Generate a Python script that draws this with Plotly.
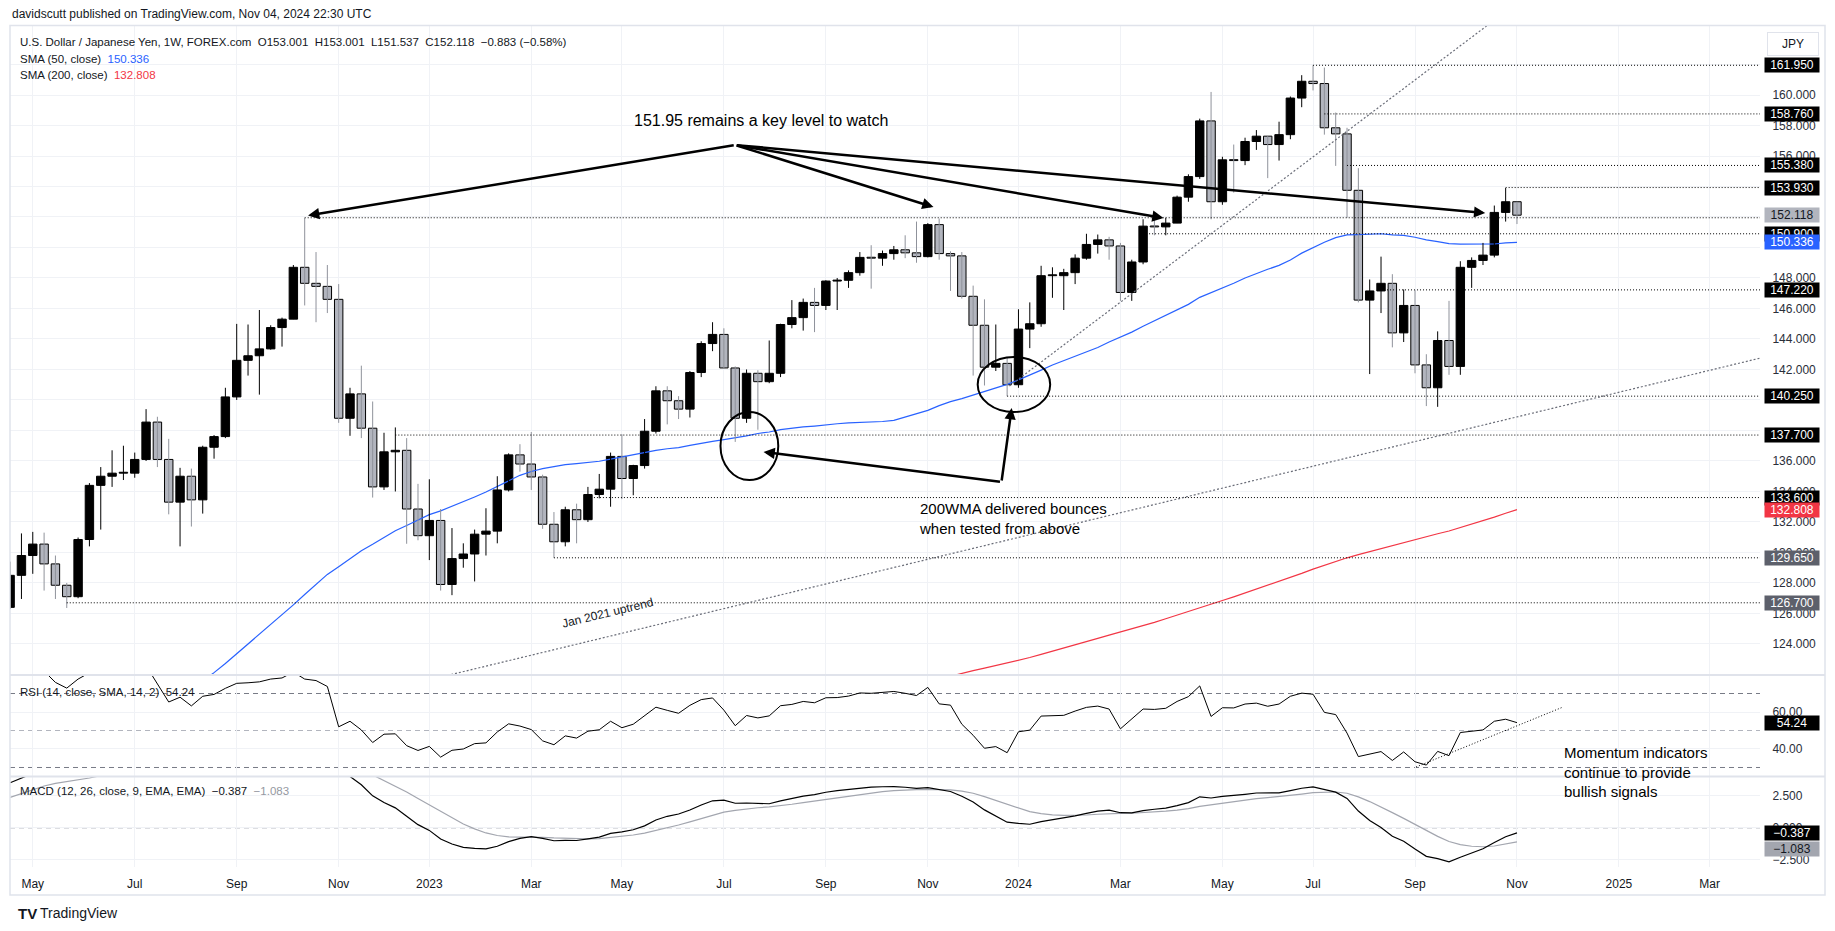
import pandas as pd
import plotly.graph_objects as go

# ---------------- data (weekly USD/JPY, FOREX.com) ----------------
FIRST_BAR = "2022-04-18"

opens = [126.4, 128.5, 129.8, 130.55, 129.25, 127.85, 127.1, 130.85, 134.4, 135.0,
         135.2, 135.2, 136.1, 138.55, 136.1, 133.3, 135.0, 133.45, 136.9, 137.6,
         140.2, 142.6, 142.9, 143.35, 144.75, 145.3, 148.7, 147.65, 147.45, 146.6,
         138.8, 140.4, 138.15, 134.3, 136.6, 136.7, 132.85, 131.1, 132.1, 127.9,
         129.6, 129.9, 131.2, 131.4, 134.1, 136.4, 135.8, 134.95, 131.85, 130.7,
         132.8, 132.15, 133.8, 134.15, 136.3, 134.85, 135.7, 137.95, 140.6, 139.95,
         139.4, 141.8, 143.7, 144.3, 142.1, 138.8, 141.75, 141.2, 141.75, 144.95,
         145.4, 146.4, 146.2, 147.8, 147.85, 148.35, 149.35, 149.3, 149.6, 149.85,
         149.65, 149.4, 151.5, 149.6, 149.45, 146.8, 144.9, 142.15, 142.4, 141.0,
         144.65, 145.0, 148.15, 148.15, 148.35, 149.3, 150.2, 150.5, 150.1, 147.05,
         149.05, 151.4, 151.35, 151.6, 153.3, 154.65, 158.3, 153.0, 155.75, 155.7,
         156.95, 157.3, 156.75, 157.4, 159.8, 160.9, 160.75, 157.85, 157.45, 153.75,
         146.55, 147.15, 147.65, 144.4, 146.2, 142.3, 140.8, 143.9, 142.2, 148.7,
         149.15, 149.5, 152.3, 153.001]
highs = [129.4, 131.25, 131.35, 131.3, 129.8, 128.0, 130.98, 134.55, 135.6, 136.7,
         137.0, 136.55, 139.4, 138.9, 137.45, 135.55, 135.5, 137.0, 137.7, 140.8,
         144.99, 144.95, 145.9, 144.9, 145.4, 148.85, 151.94, 149.7, 148.85, 147.6,
         140.8, 142.25, 139.9, 137.85, 138.2, 137.5, 134.5, 134.8, 132.85, 131.6,
         130.6, 131.5, 132.9, 135.0, 136.5, 137.1, 137.9, 135.1, 132.65, 133.0,
         133.2, 134.3, 135.15, 136.55, 137.75, 135.75, 138.75, 140.9, 140.9, 140.25,
         141.9, 143.85, 145.1, 144.7, 142.2, 142.0, 141.95, 143.9, 145.0, 146.55,
         146.65, 147.35, 147.85, 148.0, 148.5, 149.7, 150.15, 149.8, 150.1, 150.8,
         151.7, 151.6, 151.9, 149.75, 149.7, 147.5, 146.6, 144.95, 142.8, 145.95,
         146.4, 148.8, 148.7, 148.6, 149.55, 150.9, 150.85, 150.7, 150.3, 149.2,
         151.85, 151.97, 151.95, 153.4, 154.8, 158.45, 160.2, 155.95, 156.75, 157.2,
         157.7, 157.3, 158.25, 159.9, 161.3, 161.95, 161.8, 158.85, 157.85, 155.2,
         147.9, 149.4, 148.25, 147.25, 147.2, 143.0, 144.5, 146.5, 149.1, 149.35,
         150.3, 152.75, 153.9, 153.001]
lows = [126.3, 126.95, 128.6, 127.5, 126.95, 126.36, 127.0, 130.4, 131.5, 134.3,
        134.75, 134.9, 136.0, 135.6, 132.5, 130.4, 131.7, 132.55, 136.15, 137.5,
        140.0, 141.6, 140.35, 143.3, 143.5, 145.3, 146.2, 145.1, 145.7, 138.5,
        137.65, 137.5, 133.6, 134.1, 134.0, 130.57, 130.8, 129.5, 127.5, 127.2,
        129.0, 128.1, 129.8, 130.6, 134.0, 135.3, 134.1, 131.55, 129.65, 130.4,
        130.6, 132.0, 133.55, 133.0, 133.5, 133.75, 135.5, 137.8, 138.4, 138.75,
        138.85, 141.5, 143.2, 142.05, 137.25, 138.5, 138.05, 141.1, 141.5, 144.7,
        144.55, 144.45, 145.9, 145.9, 147.35, 148.15, 147.3, 148.8, 149.2, 149.3,
        149.0, 149.35, 149.2, 147.15, 146.65, 141.6, 140.95, 141.9, 140.25, 140.8,
        143.4, 144.8, 146.7, 145.9, 147.6, 149.2, 149.6, 149.2, 146.5, 146.5,
        148.9, 150.8, 150.8, 151.6, 153.0, 154.5, 151.85, 152.8, 153.6, 155.4,
        156.4, 154.55, 155.7, 157.1, 159.2, 160.3, 157.4, 155.35, 151.95, 146.4,
        141.7, 145.7, 143.45, 143.8, 141.75, 139.6, 139.55, 141.65, 141.65, 147.35,
        148.85, 149.35, 151.7, 151.537]
closes = [128.5, 129.8, 130.55, 129.25, 127.85, 127.1, 130.85, 134.4, 135.0, 135.2,
          135.2, 136.1, 138.55, 136.1, 133.3, 135.0, 133.45, 136.9, 137.6, 140.2,
          142.6, 142.9, 143.35, 144.75, 145.3, 148.7, 147.65, 147.45, 146.6, 138.8,
          140.4, 138.15, 134.3, 136.6, 136.7, 132.85, 131.1, 132.1, 127.9, 129.6,
          129.9, 131.2, 131.4, 134.1, 136.4, 135.8, 134.95, 131.85, 130.7, 132.8,
          132.15, 133.8, 134.15, 136.3, 134.85, 135.7, 137.95, 140.6, 139.95, 139.4,
          141.8, 143.7, 144.3, 142.1, 138.8, 141.75, 141.2, 141.75, 144.95, 145.4,
          146.4, 146.2, 147.8, 147.85, 148.35, 149.35, 149.3, 149.6, 149.85, 149.65,
          149.4, 151.5, 149.6, 149.45, 146.8, 144.9, 142.15, 142.4, 141.0, 144.65,
          145.0, 148.15, 148.15, 148.35, 149.3, 150.2, 150.5, 150.1, 147.05, 149.05,
          151.4, 151.35, 151.6, 153.3, 154.65, 158.3, 153.0, 155.75, 155.7, 156.95,
          157.3, 156.75, 157.4, 159.8, 160.9, 160.75, 157.85, 157.45, 153.75, 146.55,
          147.15, 147.65, 144.4, 146.2, 142.3, 140.8, 143.9, 142.2, 148.7, 149.15,
          149.5, 152.3, 153.0, 152.118]

SMA50_FIRST_BAR = 16
sma50 = [121.02, 121.56, 122.12, 122.72, 123.36, 124.0, 124.62, 125.23, 125.86, 126.56,
         127.24, 127.91, 128.56, 129.07, 129.61, 130.12, 130.54, 131.0, 131.43, 131.77,
         132.11, 132.48, 132.73, 133.02, 133.31, 133.64, 133.96, 134.34, 134.72, 135.06,
         135.31, 135.5, 135.63, 135.76, 135.83, 135.91, 135.98, 136.12, 136.26, 136.43,
         136.58, 136.7, 136.8, 136.88, 137.02, 137.17, 137.28, 137.4, 137.51, 137.65,
         137.8, 137.9, 138.05, 138.15, 138.23, 138.29, 138.38, 138.44, 138.5, 138.52,
         138.55, 138.59, 138.66, 138.88, 139.06, 139.32, 139.63, 139.89, 140.09, 140.33,
         140.55, 140.76, 141.02, 141.32, 141.62, 141.96, 142.29, 142.58, 142.84, 143.13,
         143.44, 143.8, 144.13, 144.45, 144.84, 145.19, 145.54, 145.88, 146.27, 146.73,
         147.03, 147.33, 147.65, 148.0, 148.31, 148.57, 148.83, 149.18, 149.63, 150.0,
         150.34, 150.65, 150.83, 150.85, 150.87, 150.9, 150.83, 150.79, 150.67, 150.5,
         150.39, 150.25, 150.22, 150.21, 150.22, 150.23, 150.3, 150.336]

SMA200_FIRST_BAR = 82
sma200 = [121.7, 121.9, 122.08, 122.25, 122.41, 122.58, 122.73, 122.92, 123.11, 123.32,
          123.52, 123.73, 123.94, 124.15, 124.37, 124.58, 124.78, 124.98, 125.2, 125.42,
          125.65, 125.88, 126.12, 126.37, 126.6, 126.85, 127.09, 127.34, 127.59, 127.84,
          128.1, 128.36, 128.63, 128.91, 129.16, 129.42, 129.65, 129.86, 130.06, 130.27,
          130.47, 130.67, 130.85, 131.03, 131.23, 131.41, 131.63, 131.85, 132.08, 132.32,
          132.57, 132.808]

rsi = [86.8, 87.7, 88.1, 82.1, 76.0, 72.9, 77.8, 81.2, 81.8, 81.9,
       81.9, 82.8, 85.0, 74.9, 65.4, 68.0, 63.3, 68.5, 69.5, 72.8,
       75.5, 75.8, 76.3, 77.8, 78.4, 81.6, 77.8, 77.0, 73.8, 52.0,
       55.0, 50.3, 43.5, 48.0, 48.2, 41.8, 39.2, 41.4, 35.6, 39.3,
       40.0, 42.9, 43.3, 49.2, 53.6, 52.4, 50.5, 44.4, 42.3, 47.1,
       45.9, 49.6, 50.4, 55.0, 51.5, 53.4, 58.0, 62.6, 60.9, 59.3,
       63.6, 66.7, 67.6, 61.0, 52.6, 58.1, 56.8, 57.9, 63.4, 64.1,
       65.7, 65.0, 67.7, 67.8, 68.6, 70.3, 70.1, 70.7, 71.1, 70.1,
       68.9, 73.3, 64.4, 63.7, 53.4, 47.4, 40.4, 41.3, 38.0, 49.3,
       50.2, 57.8, 57.8, 58.2, 60.5, 62.5, 63.2, 61.6, 50.9, 56.3,
       61.6, 61.4, 62.0, 65.7, 68.3, 74.1, 57.6, 62.3, 62.2, 64.3,
       64.8, 63.1, 64.3, 68.5, 70.2, 69.6, 59.8, 58.6, 48.6, 35.9,
       37.3, 38.6, 33.8, 38.4, 33.1, 31.3, 38.7, 36.4, 48.9, 49.7,
       50.3, 55.0, 56.1, 54.24]

macd = [3.53, 3.93, 4.26, 4.37, 4.29, 4.12, 4.24, 4.57, 4.82, 4.98,
        5.05, 5.11, 5.30, 5.20, 4.83, 4.62, 4.28, 4.25, 4.22, 4.36,
        4.62, 4.79, 4.90, 5.04, 5.14, 5.43, 5.52, 5.50, 5.36, 4.57,
        4.02, 3.37, 2.51, 1.99, 1.57, 0.92, 0.26, -0.19, -0.86, -1.25,
        -1.52, -1.60, -1.64, -1.43, -1.07, -0.82, -0.68, -0.82, -1.00, -0.97,
        -0.98, -0.85, -0.71, -0.42, -0.31, -0.14, 0.16, 0.62, 0.91, 1.09,
        1.40, 1.79, 2.12, 2.17, 1.93, 1.95, 1.91, 1.89, 2.11, 2.30,
        2.49, 2.61, 2.79, 2.91, 3.01, 3.13, 3.19, 3.22, 3.23, 3.18,
        3.09, 3.15, 3.01, 2.85, 2.48, 2.02, 1.41, 0.94, 0.45, 0.35,
        0.29, 0.50, 0.65, 0.78, 0.95, 1.14, 1.31, 1.39, 1.19, 1.18,
        1.35, 1.46, 1.55, 1.74, 1.98, 2.43, 2.34, 2.46, 2.52, 2.63,
        2.73, 2.72, 2.74, 2.91, 3.10, 3.21, 3.02, 2.80, 2.31, 1.32,
        0.58, 0.04, -0.65, -1.04, -1.65, -2.22, -2.39, -2.64, -2.29, -1.95,
        -1.63, -1.14, -0.69, -0.387]
macd_signal = [2.39, 2.70, 3.01, 3.28, 3.48, 3.61, 3.74, 3.90, 4.09, 4.26,
               4.42, 4.56, 4.71, 4.81, 4.81, 4.77, 4.67, 4.59, 4.52, 4.49,
               4.51, 4.57, 4.63, 4.71, 4.80, 4.93, 5.05, 5.14, 5.18, 5.06,
               4.85, 4.55, 4.14, 3.71, 3.29, 2.81, 2.30, 1.81, 1.27, 0.77,
               0.31, -0.07, -0.39, -0.59, -0.69, -0.71, -0.71, -0.73, -0.78, -0.82,
               -0.85, -0.85, -0.83, -0.74, -0.66, -0.55, -0.41, -0.21, 0.02, 0.23,
               0.47, 0.73, 1.01, 1.24, 1.38, 1.49, 1.58, 1.64, 1.73, 1.85,
               1.98, 2.10, 2.24, 2.37, 2.50, 2.63, 2.74, 2.83, 2.91, 2.97,
               2.99, 3.02, 3.02, 2.98, 2.88, 2.71, 2.45, 2.15, 1.81, 1.52,
               1.27, 1.12, 1.02, 0.98, 0.97, 1.01, 1.07, 1.13, 1.14, 1.15,
               1.19, 1.24, 1.31, 1.39, 1.51, 1.69, 1.82, 1.95, 2.06, 2.18,
               2.29, 2.37, 2.45, 2.54, 2.65, 2.76, 2.81, 2.81, 2.71, 2.43,
               2.06, 1.66, 1.20, 0.75, 0.27, -0.23, -0.66, -1.06, -1.30, -1.43,
               -1.47, -1.41, -1.26, -1.083]

price_ticks = [124, 126, 128, 130, 132, 134, 136, 138, 140, 142, 144, 146, 148,
               150, 152, 154, 156, 158, 160, 162]
# tick labels that sit completely under a level label in the reference are left blank
price_ticks_hidden = [138, 140, 150, 152, 154, 162]
rsi_ticks = [40, 60]
macd_ticks = [-2.5, 0, 2.5]
month_ticks = ["2022-05-02", "2022-07-04", "2022-09-05", "2022-11-07", "2023-01-02",
               "2023-03-06", "2023-05-01", "2023-07-03", "2023-09-04", "2023-11-06",
               "2024-01-01", "2024-03-04", "2024-05-06", "2024-07-01", "2024-09-02",
               "2024-11-04", "2025-01-06", "2025-03-03"]
month_labels = ["May", "Jul", "Sep", "Nov", "2023", "Mar", "May", "Jul", "Sep", "Nov",
                "2024", "Mar", "May", "Jul", "Sep", "Nov", "2025", "Mar"]

# horizontal levels drawn by the author and the bar each one starts from
levels = [161.95, 158.76, 155.38, 153.93, 151.95, 150.90, 147.22, 140.25, 137.70,
          133.60, 129.65, 126.70]
level_start_bar = [115, 116, 118, 132, 26, 100, 121, 88, 34, 51, 48, 5]
level_label_bg = ["#000000", "#000000", "#000000", "#000000", None, "#000000",
                  "#000000", "#000000", "#000000", "#000000", "#5d606b", "#5d606b"]

last_price = 152.118
sma50_last = 150.336
sma200_last = 132.808
rsi_last = 54.24
macd_last = -0.387
signal_last = -1.083

# ---------------- geometry helpers ----------------
W, H = 1835, 931
FONT = "Liberation Sans, Arial, sans-serif"
INK = "#131722"


def X(px):
    return px / W


def Y(py):
    return 1 - py / H


t0 = pd.Timestamp(FIRST_BAR)


def bt(i):
    return (t0 + pd.Timedelta(days=7 * i)).isoformat()


n = len(closes)
dates = [bt(k) for k in range(n)]
x_range = [bt(-0.01), bt(154.45)]

fig = go.Figure()

# moving averages
fig.add_trace(go.Scatter(x=dates[SMA50_FIRST_BAR:], y=sma50, mode="lines",
                         line=dict(color="#2962ff", width=1.2),
                         xaxis="x", yaxis="y", hoverinfo="skip", showlegend=False))
fig.add_trace(go.Scatter(x=dates[SMA200_FIRST_BAR:], y=sma200, mode="lines",
                         line=dict(color="#f23645", width=1.2),
                         xaxis="x", yaxis="y", hoverinfo="skip", showlegend=False))

# candles
up = [k for k in range(n) if closes[k] >= opens[k]]
dn = [k for k in range(n) if closes[k] < opens[k]]


def wick_xy(idx):
    xs, ys = [], []
    for k in idx:
        xs += [dates[k], dates[k], None]
        ys += [lows[k], highs[k], None]
    return xs, ys


for idx, col in ((up, "#000000"), (dn, "#8f929b")):
    wx, wy = wick_xy(idx)
    fig.add_trace(go.Scatter(x=wx, y=wy, mode="lines", line=dict(color=col, width=1),
                             xaxis="x", yaxis="y", hoverinfo="skip", showlegend=False))

BODY_MS = 5.2 * 86400000
for idx, fill in ((up, "#000000"), (dn, "#b2b5be")):
    fig.add_trace(go.Bar(
        x=[dates[k] for k in idx],
        y=[max(abs(closes[k] - opens[k]), 0.06) for k in idx],
        base=[min(opens[k], closes[k]) for k in idx],
        width=BODY_MS,
        marker=dict(color=fill, line=dict(color="#000000", width=1)),
        xaxis="x", yaxis="y", hoverinfo="skip", showlegend=False))

# RSI
fig.add_trace(go.Scatter(x=dates, y=rsi, mode="lines", line=dict(color="#000000", width=1),
                         xaxis="x2", yaxis="y2", hoverinfo="skip", showlegend=False))
# MACD
fig.add_trace(go.Scatter(x=dates, y=macd_signal, mode="lines",
                         line=dict(color="#a3a6af", width=1.2),
                         xaxis="x3", yaxis="y3", hoverinfo="skip", showlegend=False))
fig.add_trace(go.Scatter(x=dates, y=macd, mode="lines", line=dict(color="#000000", width=1.2),
                         xaxis="x3", yaxis="y3", hoverinfo="skip", showlegend=False))

# ---------------- shapes ----------------
shapes = []
DOT = "1px,2px"
for lv, sb in zip(levels, level_start_bar):
    shapes.append(dict(type="line", xref="x", yref="y", x0=bt(sb), x1=bt(170), y0=lv, y1=lv,
                       line=dict(color="#000000", width=1, dash=DOT), layer="above"))

# trend lines (bar index, price)
trend_dec23 = [(88.2, 140.92), (132.0, 165.47)]
trend_jan21 = [(30.0, 120.39), (160.0, 143.74)]
for (i0, p0), (i1, p1) in (trend_dec23, trend_jan21):
    shapes.append(dict(type="line", xref="x", yref="y", x0=bt(i0), x1=bt(i1), y0=p0, y1=p1,
                       line=dict(color="#6a6d78", width=1.2, dash="2px,2px"), layer="above"))

# circles
circles = [((62.7, 134.75), (67.8, 139.21)), ((85.4, 139.21), (91.8, 142.82))]
for (i0, p0), (i1, p1) in circles:
    shapes.append(dict(type="circle", xref="x", yref="y", x0=bt(i0), x1=bt(i1), y0=p0, y1=p1,
                       line=dict(color="#000000", width=2), layer="above"))

# RSI guide lines
for lv, col in ((70, "#787b86"), (50, "#b2b5be"), (30, "#787b86")):
    shapes.append(dict(type="line", xref="paper", yref="y2", x0=X(10), x1=X(1760), y0=lv, y1=lv,
                       line=dict(color=col, width=1, dash="5px,4px"), layer="below"))
# RSI trend line
rsi_trend = [(124.1, 30.3), (137.07, 62.7)]
shapes.append(dict(type="line", xref="x2", yref="y2", x0=bt(rsi_trend[0][0]), x1=bt(rsi_trend[1][0]),
                   y0=rsi_trend[0][1], y1=rsi_trend[1][1],
                   line=dict(color="#000000", width=1, dash=DOT), layer="above"))
# MACD zero line
shapes.append(dict(type="line", xref="paper", yref="y3", x0=X(10), x1=X(1760), y0=0, y1=0,
                   line=dict(color="#b2b5be", width=1, dash="5px,4px"), layer="below"))
# pane separators and frame
for py in (675, 776.5):
    shapes.append(dict(type="line", xref="paper", yref="paper", x0=X(10), x1=X(1825),
                       y0=Y(py), y1=Y(py), line=dict(color="#e0e3eb", width=2)))
shapes.append(dict(type="rect", xref="paper", yref="paper", x0=X(10), x1=X(1825),
                   y0=Y(895), y1=Y(25.5), line=dict(color="#e0e3eb", width=1.5)))

# ---------------- annotations ----------------
ann = []


def text(x, y, s, size=12, color=INK, xanchor="left", yanchor="middle", **kw):
    d = dict(x=x, y=y, xref="paper", yref="paper", text=s, showarrow=False,
             xanchor=xanchor, yanchor=yanchor, font=dict(family=FONT, size=size, color=color))
    d.update(kw)
    ann.append(d)


NB = "\u00a0"
text(X(10), Y(14), "davidscutt published on TradingView.com, Nov 04, 2024 22:30 UTC", size=12)
text(X(18), Y(42), "U.S. Dollar / Japanese Yen, 1W, FOREX.com" + NB * 2 +
     f"O{opens[-1]:.3f}" + NB * 2 + f"H{highs[-1]:.3f}" + NB * 2 + f"L{lows[-1]:.3f}" + NB * 2 +
     f"C{closes[-1]:.3f}" + NB * 2 + "\u22120.883 (\u22120.58%)", size=11.5)
text(X(18), Y(59), "SMA (50, close)" + NB * 2 + f"<span style='color:#2962ff'>{sma50_last:.3f}</span>",
     size=11.5)
text(X(18), Y(75), "SMA (200, close)" + NB * 2 + f"<span style='color:#f23645'>{sma200_last:.3f}</span>",
     size=11.5)
text(X(18), Y(692), "RSI (14, close, SMA, 14, 2)" + NB * 2 + f"{rsi_last:.2f}", size=11.5)
text(X(18), Y(791), "MACD (12, 26, close, 9, EMA, EMA)" + NB * 2 + f"\u2212{abs(macd_last):.3f}" +
     NB * 2 + f"<span style='color:#9598a1'>\u2212{abs(signal_last):.3f}</span>", size=11.5)

# author notes
ann.append(dict(x=bt(66.3), y=158.36, xref="x", yref="y", text="151.95 remains a key level to watch",
                showarrow=False, yanchor="middle",
                font=dict(family=FONT, size=16, color="#000000")))
ann.append(dict(x=bt(80.0), y=132.26, xref="x", yref="y",
                text="200WMA delivered bounces<br>when tested from above", align="left",
                xanchor="left", yanchor="middle", showarrow=False,
                font=dict(family=FONT, size=15, color="#000000")))
ann.append(dict(x=bt(137.0), y=Y(772), xref="x", yref="paper",
                text="Momentum indicators<br>continue to provide<br>bullish signals", align="left",
                xanchor="left", yanchor="middle", showarrow=False,
                font=dict(family=FONT, size=15, color="#000000")))
ann.append(dict(x=bt(52.7), y=126.0, xref="x", yref="y", text="Jan 2021 uptrend", textangle=-13.6,
                showarrow=False, yanchor="middle", font=dict(family=FONT, size=12, color=INK)))

arrow_tail = (64.0, 156.72)
arrow_tips = [(26.3, 152.1), (81.5, 152.65), (101.8, 151.93), (130.2, 152.26)]
for ti, tp in arrow_tips:
    ann.append(dict(x=bt(ti), y=tp, ax=bt(arrow_tail[0]), ay=arrow_tail[1], xref="x", yref="y",
                    axref="x", ayref="y", text="", showarrow=True, arrowhead=2, arrowsize=0.9,
                    arrowwidth=2.5, arrowcolor="#000000", standoff=0))
bounce_tail = (87.5, 134.62)
bounce_tips = [(66.5, 136.59), (88.4, 139.47)]
for ti, tp in bounce_tips:
    ann.append(dict(x=bt(ti), y=tp, ax=bt(bounce_tail[0]), ay=bounce_tail[1], xref="x", yref="y",
                    axref="x", ayref="y", text="", showarrow=True, arrowhead=2, arrowsize=0.9,
                    arrowwidth=2.5, arrowcolor="#000000", standoff=0))


def axis_label(y, yref, s, bg, fg="#ffffff", yshift=0):
    ann.append(dict(x=X(1764), y=y, xref="paper", yref=yref, text=s, showarrow=False,
                    xanchor="left", yanchor="middle", bgcolor=bg, width=52, height=12, borderpad=1,
                    align="center", yshift=yshift, font=dict(family=FONT, size=12, color=fg)))


for lv, bg in zip(levels, level_label_bg):
    if bg is not None and lv not in (150.90,):
        axis_label(lv, "y", f"{lv:.3f}", bg)
axis_label(150.90, "y", "150.900", "#000000")
axis_label(last_price, "y", f"{last_price:.3f}", "#b2b5be", fg=INK)
axis_label(sma50_last, "y", f"{sma50_last:.3f}", "#2962ff")
axis_label(sma200_last, "y", f"{sma200_last:.3f}", "#f23645")
axis_label(rsi_last, "y2", f"{rsi_last:.2f}", "#000000")
axis_label(macd_last, "y3", f"\u2212{abs(macd_last):.3f}", "#000000")
axis_label(signal_last, "y3", f"\u2212{abs(signal_last):.3f}", "#a3a6af", fg=INK, yshift=-7)

ann.append(dict(x=X(1767), y=Y(44), xref="paper", yref="paper", text="JPY", showarrow=False,
                xanchor="left", yanchor="middle", bgcolor="#ffffff", bordercolor="#e0e3eb",
                borderwidth=1, width=48, height=20, font=dict(family=FONT, size=12, color=INK)))

# TradingView logo
text(X(16), Y(913), "<b>TV</b>", size=15, color=INK)
text(X(38), Y(913), "TradingView", size=14, color=INK)

# ---------------- axes ----------------
grid = "#f0f2f6"
xbase = dict(type="date", range=x_range, tickvals=month_ticks, ticktext=month_labels,
             showgrid=True, gridcolor=grid, gridwidth=1, zeroline=False, showline=False,
             fixedrange=True, domain=[X(10), X(1760)])
ybase = dict(side="right", showgrid=True, gridcolor=grid, gridwidth=1, zeroline=False,
             showline=False, ticks="outside", ticklen=9, tickcolor="rgba(0,0,0,0)",
             tickfont=dict(family=FONT, size=12, color="#2a2e39"), fixedrange=True)

fig.update_layout(
    width=W, height=H, margin=dict(l=0, r=0, t=0, b=0),
    paper_bgcolor="#ffffff", plot_bgcolor="#ffffff",
    barmode="overlay", hovermode=False, showlegend=False,
    xaxis=dict(xbase, anchor="y", showticklabels=False),
    xaxis2=dict(xbase, anchor="y2", matches="x", showticklabels=False),
    xaxis3=dict(xbase, anchor="y3", matches="x", showticklabels=True, ticks="outside",
                ticklen=6, tickcolor="rgba(0,0,0,0)",
                tickfont=dict(family=FONT, size=12, color=INK)),
    yaxis=dict(ybase, domain=[Y(674), Y(26)], range=[122.03, 164.525], anchor="x",
               tickvals=price_ticks,
               ticktext=["" if v in price_ticks_hidden else f"{v:.3f}" for v in price_ticks]),
    yaxis2=dict(ybase, domain=[Y(776), Y(676)], range=[25.4, 79.46], anchor="x2",
                tickvals=rsi_ticks, ticktext=[f"{v:.2f}" for v in rsi_ticks]),
    yaxis3=dict(ybase, domain=[Y(867), Y(777)], range=[-3.05, 3.98], anchor="x3",
                tickvals=macd_ticks,
                ticktext=[("\u2212" if v < 0 else "") + f"{abs(v):.3f}" for v in macd_ticks]),
    shapes=shapes, annotations=ann,
)

fig.write_html("out.html", config={"displayModeBar": False},
               post_script="document.body.style.margin='0px';document.body.style.overflow='hidden';")
